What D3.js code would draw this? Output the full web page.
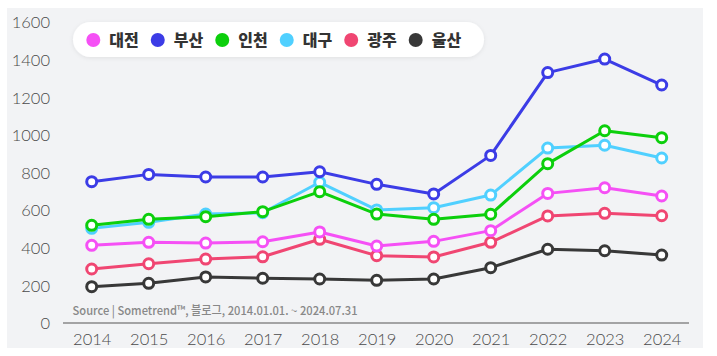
<!DOCTYPE html>
<html><head><meta charset="utf-8">
<script src="https://cdn.jsdelivr.net/npm/d3@7"></script>
<style>html,body{margin:0;padding:0;background:#fff;}svg{display:block;}</style>
</head><body>
<svg id="c" width="717" height="356"></svg>
<script>
const years = ["2014","2015","2016","2017","2018","2019","2020","2021","2022","2023","2024"];
const yTicks = [0,200,400,600,800,1000,1200,1400,1600];
const seriesNames = ["대전","부산","인천","대구","광주","울산"];
const seriesColors = ["#f550f5","#3c3ce6","#0ccf0c","#50d0ff","#f04672","#383838"];
const daejeon = [413,429,425,432,484,409,434,491,689,719,675];
const busan   = [751,790,776,776,804,737,686,891,1331,1403,1265];
const incheon = [519,551,565,592,698,579,551,578,847,1022,985];
const daegu   = [503,535,579,586,748,601,613,680,930,945,877];
const gwangju = [287,315,340,352,445,358,351,429,569,583,570];
const ulsan   = [193,211,245,238,234,227,234,294,392,384,361];
const seriesValues = [daejeon,busan,incheon,daegu,gwangju,ulsan];
const sourceText = "Source | Sometrend™, 블로그, 2014.01.01. ~ 2024.07.31";

const svg = d3.select("#c");
svg.append("rect").attr("x",7).attr("y",8).attr("width",696).attr("height",340).attr("fill","#f2f3f5");

const x = d3.scalePoint().domain(years).range([91.7,661.7]);
const y = d3.scaleLinear().domain([0,1600]).range([323,22]);

const yAxis = svg.append("g").attr("transform","translate(50,0)")
  .call(d3.axisLeft(y).tickValues(yTicks).tickSize(0).tickPadding(0).tickFormat(d3.format("d")));
yAxis.select(".domain").remove();
yAxis.selectAll("text").attr("font-family","Lato, 'Noto Sans', sans-serif").attr("font-weight",300)
  .attr("font-size",16.5).attr("fill","#4a4a4a").attr("dy","0.35em");

const xAxis = svg.append("g").attr("transform","translate(0,323)")
  .call(d3.axisBottom(x).tickSize(0).tickPadding(10));
xAxis.select(".domain").remove();
svg.append("line").attr("x1",63).attr("x2",689).attr("y1",323).attr("y2",323).attr("stroke","#888").attr("stroke-width",1.5);
xAxis.selectAll("text").attr("font-family","Lato, 'Noto Sans', sans-serif").attr("font-weight",300)
  .attr("font-size",16.5).attr("fill","#4a4a4a").attr("dy","0.75em");

svg.append("text").attr("x",72.5).attr("y",315).text(sourceText)
  .attr("font-family","'Noto Sans CJK KR', sans-serif").attr("font-weight",500).attr("font-size",12)
  .attr("fill","#888").attr("textLength",285).attr("lengthAdjust","spacingAndGlyphs");

const line = d3.line().x((d,i)=>x(years[i])).y(d=>y(d));
const order = [5,4,0,3,2,1];
order.forEach(k=>{
  const g = svg.append("g");
  g.append("path").datum(seriesValues[k]).attr("d",line).attr("fill","none")
    .attr("stroke",seriesColors[k]).attr("stroke-width",3).attr("stroke-linejoin","round");
  g.selectAll("circle").data(seriesValues[k]).join("circle")
    .attr("cx",(d,i)=>x(years[i])).attr("cy",d=>y(d)).attr("r",5)
    .attr("fill","#fff").attr("stroke",seriesColors[k]).attr("stroke-width",3);
});

const defs = svg.append("defs");
const f = defs.append("filter").attr("id","sh").attr("x","-10%").attr("y","-50%").attr("width","120%").attr("height","200%");
f.append("feDropShadow").attr("dx",0).attr("dy",1).attr("stdDeviation",2).attr("flood-color","#000").attr("flood-opacity",0.08);
svg.append("rect").attr("x",73).attr("y",22).attr("width",411).attr("height",35).attr("rx",17.5)
  .attr("fill","#fff").attr("filter","url(#sh)");
const lx = d3.scaleLinear().domain([0,5]).range([93.3,415.7]);
seriesNames.forEach((n,i)=>{
  svg.append("circle").attr("cx",lx(i)).attr("cy",40).attr("r",7).attr("fill",seriesColors[i]);
  svg.append("text").attr("x",lx(i)+16).attr("y",40).attr("dy","0.36em").text(n)
    .attr("font-family","'Noto Sans CJK KR', sans-serif").attr("font-weight",900).attr("font-size",16)
    .attr("fill","#333");
});
</script>
</body></html>
